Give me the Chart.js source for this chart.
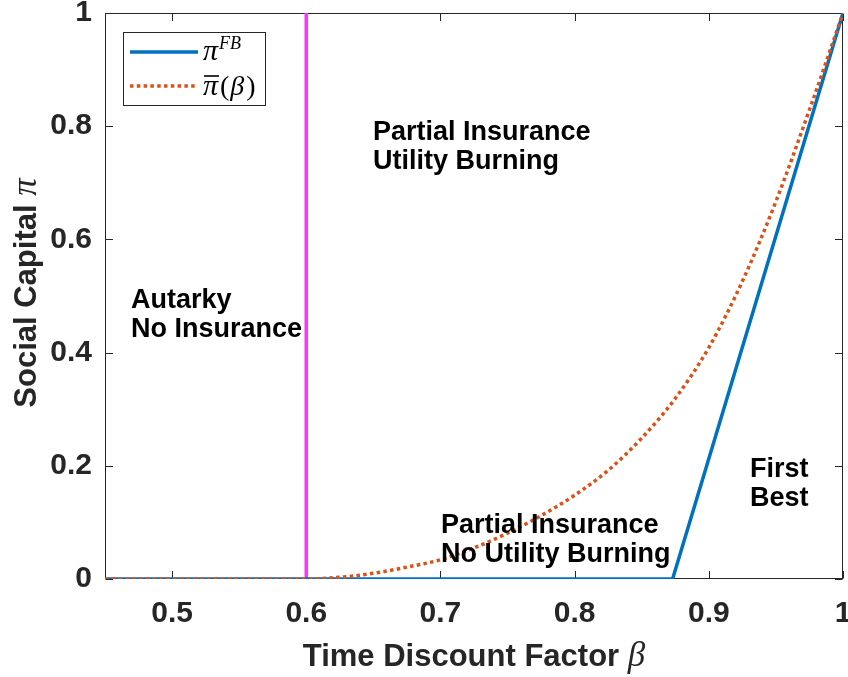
<!DOCTYPE html>
<html>
<head>
<meta charset="utf-8">
<script src="https://cdn.jsdelivr.net/npm/chart.js@4.4.1/dist/chart.umd.min.js"></script>
<style>
  html, body { margin: 0; padding: 0; background: #fff; }
  #wrap { width: 848px; height: 677px; }
</style>
</head>
<body>
<div id="wrap"><canvas id="c" width="848" height="677"></canvas></div>
<script>
// Axis ticks
const betaTicks = [0.5, 0.6, 0.7, 0.8, 0.9, 1];
const piTicks = [0, 0.2, 0.4, 0.6, 0.8, 1];

// First-best social capital: zero until the kink, then linear up to 1
const fbBeta = [0.45, 0.873, 1.0];
const fbPi = [0, 0, 1];

// Sustainable social capital pi-bar(beta)
const barBeta = [0.45, 0.5, 0.55, 0.6, 0.625, 0.65, 0.675, 0.7, 0.725, 0.75, 0.775,
                 0.8, 0.825, 0.85, 0.875, 0.9, 0.925, 0.95, 0.975, 1.0];
const barPi = [0, 0, 0, 0, 0.003, 0.010, 0.021, 0.034, 0.055, 0.081, 0.112,
               0.148, 0.192, 0.249, 0.319, 0.409, 0.526, 0.667, 0.829, 1.0];

// Autarky threshold
const autarkyBeta = [0.6, 0.6];
const autarkyPi = [0, 1];

// Region labels (anchored in data units: left edge, first baseline)
const regionText = [
  ['Autarky', 'No Insurance'],
  ['Partial Insurance', 'Utility Burning'],
  ['Partial Insurance', 'No Utility Burning'],
  ['First', 'Best']
];
const regionAnchorBeta = [0.4694, 0.6497, 0.7004, 0.9307];
const regionAnchorPi = [0.479, 0.7765, 0.0807, 0.1807];

const SANS = '"Liberation Sans", Arial, Helvetica, sans-serif';
const SERIF = '"Liberation Serif", "Times New Roman", serif';
const AXIS = '#262626';
const BLUE = '#0072BD';
const ORANGE = '#D95319';
const MAGENTA = '#FF33FF';

const pts = (xs, ys) => xs.map((v, i) => ({ x: v, y: ys[i] }));

// Box, inward ticks on all four sides
const framePlugin = {
  id: 'frame',
  beforeDatasetsDraw(chart) {
    const { ctx, chartArea: a, scales: { x, y } } = chart;
    ctx.save();
    ctx.strokeStyle = AXIS;
    ctx.lineWidth = 1;
    const L = Math.round(a.left) + 0.5, R = Math.round(a.right) - 0.5;
    const T = Math.round(a.top) + 0.5, B = Math.round(a.bottom) - 0.5;
    ctx.strokeRect(L, T, R - L, B - T);
    const tl = 7.5;
    ctx.beginPath();
    betaTicks.forEach(v => {
      const px = Math.round(x.getPixelForValue(v)) + 0.5;
      ctx.moveTo(px, B); ctx.lineTo(px, B - tl);
      ctx.moveTo(px, T); ctx.lineTo(px, T + tl);
    });
    piTicks.forEach(v => {
      const py = Math.round(y.getPixelForValue(v)) + 0.5;
      ctx.moveTo(L, py); ctx.lineTo(L + tl, py);
      ctx.moveTo(R, py); ctx.lineTo(R - tl, py);
    });
    ctx.stroke();
    ctx.restore();
  },
  afterDraw(chart) {
    const { ctx, chartArea: a, scales: { x, y } } = chart;
    ctx.save();

    // Region labels
    ctx.fillStyle = '#000';
    ctx.font = 'bold 27px ' + SANS;
    ctx.textAlign = 'left';
    ctx.textBaseline = 'alphabetic';
    regionText.forEach((lines, i) => {
      const px = x.getPixelForValue(regionAnchorBeta[i]);
      const py = y.getPixelForValue(regionAnchorPi[i]);
      lines.forEach((s, k) => ctx.fillText(s, px, py + k * 29));
    });

    // Axis titles: bold sans words followed by an italic serif symbol
    const drawTitle = (words, sym, cx, cy, rot) => {
      ctx.save();
      ctx.translate(cx, cy);
      ctx.rotate(rot);
      ctx.fillStyle = AXIS;
      const f1 = 'bold 31px ' + SANS, f2 = 'italic 35px ' + SERIF;
      ctx.font = f1; const w1 = ctx.measureText(words).width;
      ctx.font = f2; const w2 = ctx.measureText(sym).width;
      const x0 = -(w1 + w2) / 2;
      ctx.textBaseline = 'alphabetic';
      ctx.textAlign = 'left';
      ctx.font = f1; ctx.fillText(words, x0, 11);
      ctx.font = f2; ctx.fillText(sym, x0 + w1, 11);
      ctx.restore();
    };
    drawTitle('Time Discount Factor ', '\u03B2', (a.left + a.right) / 2, 655, 0);
    drawTitle('Social Capital ', '\u03C0', 25, (a.top + a.bottom) / 2 - 3, -Math.PI / 2);

    // Legend
    const bx = 123.5, by = 32.5, bw = 142, bh = 73;
    ctx.fillStyle = '#fff';
    ctx.fillRect(bx, by, bw, bh);
    ctx.strokeStyle = AXIS;
    ctx.lineWidth = 1;
    ctx.strokeRect(bx, by, bw, bh);

    ctx.lineCap = 'butt';
    ctx.lineWidth = 3.5;
    ctx.strokeStyle = BLUE;
    ctx.beginPath(); ctx.moveTo(130, 52); ctx.lineTo(198, 52); ctx.stroke();
    ctx.strokeStyle = ORANGE;
    ctx.setLineDash([3.5, 3.3]);
    ctx.beginPath(); ctx.moveTo(130, 86); ctx.lineTo(198, 86); ctx.stroke();
    ctx.setLineDash([]);

    ctx.fillStyle = '#000';
    ctx.textAlign = 'left';
    ctx.textBaseline = 'alphabetic';
    ctx.font = 'italic 30px ' + SERIF;
    ctx.fillText('\u03C0', 203, 60);
    let w = ctx.measureText('\u03C0').width;
    ctx.font = 'italic 18px ' + SERIF;
    ctx.fillText('FB', 203 + w + 1, 49);

    // pi with an overbar, then (beta)
    ctx.font = 'italic 30px ' + SERIF;
    ctx.fillText('\u03C0', 203, 95);
    w = ctx.measureText('\u03C0').width;
    ctx.strokeStyle = '#000';
    ctx.lineWidth = 1.6;
    ctx.beginPath(); ctx.moveTo(204, 76); ctx.lineTo(203 + w + 1, 76); ctx.stroke();
    ctx.font = '28px ' + SERIF;
    ctx.fillText('(', 203 + w + 2, 95);
    const wp = ctx.measureText('(').width;
    ctx.font = 'italic 28px ' + SERIF;
    ctx.fillText('\u03B2', 203 + w + 2 + wp + 1, 95);
    const wb = ctx.measureText('\u03B2').width;
    ctx.font = '28px ' + SERIF;
    ctx.fillText(')', 203 + w + 2 + wp + 1 + wb + 2, 95);

    ctx.restore();
  }
};

const whiteBg = {
  id: 'whiteBg',
  beforeDraw(chart) {
    const { ctx, width, height } = chart;
    ctx.save(); ctx.fillStyle = '#fff'; ctx.fillRect(0, 0, width, height); ctx.restore();
  }
};

new Chart(document.getElementById('c'), {
  type: 'line',
  data: {
    datasets: [
      {
        label: '\u03C0\u0304(\u03B2)',
        data: pts(barBeta, barPi),
        borderColor: ORANGE,
        borderWidth: 3.5,
        borderDash: [3.5, 3.3],
        cubicInterpolationMode: 'monotone',
        pointRadius: 0,
        fill: false,
        order: 1
      },
      {
        label: '\u03C0^FB',
        data: pts(fbBeta, fbPi),
        borderColor: BLUE,
        borderWidth: 3.5,
        tension: 0,
        pointRadius: 0,
        fill: false,
        order: 2
      },
      {
        label: 'threshold',
        data: pts(autarkyBeta, autarkyPi),
        borderColor: MAGENTA,
        borderWidth: 3.5,
        tension: 0,
        pointRadius: 0,
        fill: false,
        order: 3
      }
    ]
  },
  options: {
    responsive: false,
    animation: false,
    devicePixelRatio: 1,
    layout: { padding: { top: 13, right: 5, left: 0, bottom: 0 } },
    plugins: { legend: { display: false }, tooltip: { enabled: false } },
    scales: {
      x: {
        type: 'linear',
        min: 0.45,
        max: 1,
        grid: { display: false, drawTicks: false, tickLength: 0 },
        border: { display: false },
        afterBuildTicks: s => { s.ticks = betaTicks.map(v => ({ value: v })); },
        afterFit: s => { s.height = 98; s.paddingLeft = 0; s.paddingRight = 0; },
        ticks: {
          color: AXIS,
          font: { family: SANS, size: 30, weight: 'bold', lineHeight: 1 },
          padding: 20,
          maxRotation: 0,
          autoSkip: false,
          callback: v => String(v)
        }
      },
      y: {
        type: 'linear',
        min: 0,
        max: 1,
        grid: { display: false, drawTicks: false, tickLength: 0 },
        border: { display: false },
        afterBuildTicks: s => { s.ticks = piTicks.map(v => ({ value: v })); },
        afterFit: s => { s.width = 105; s.paddingTop = 0; s.paddingBottom = 0; },
        ticks: {
          color: AXIS,
          font: { family: SANS, size: 30, weight: 'bold', lineHeight: 1 },
          padding: 13,
          autoSkip: false,
          callback: v => String(v)
        }
      }
    }
  },
  plugins: [whiteBg, framePlugin]
});
</script>
</body>
</html>
